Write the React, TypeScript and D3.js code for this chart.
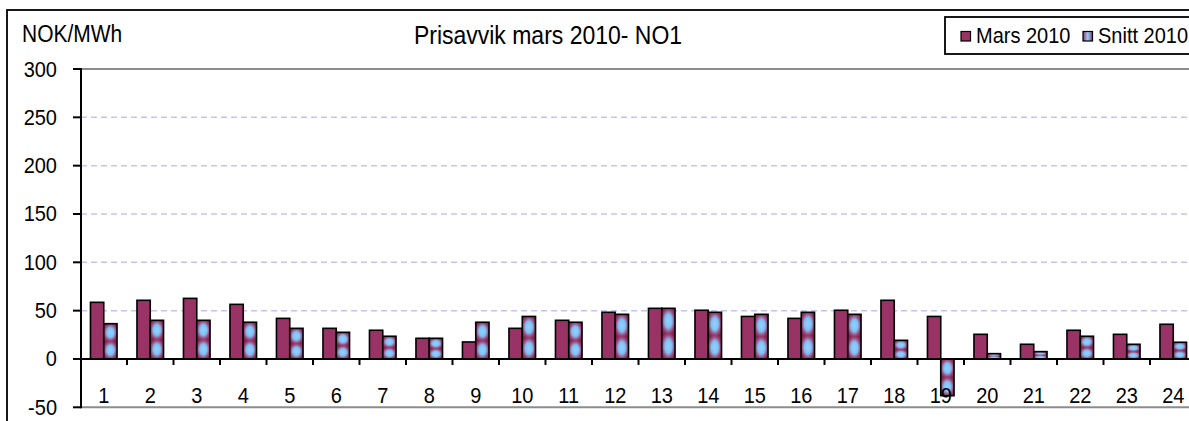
import { scaleBand, scaleLinear } from "d3";
import type { ReactNode } from "react";

const hours = Array.from({ length: 24 }, (_, i) => String(i + 1));
const series = ["Mars 2010", "Snitt 2010"];
const mars = [58.6, 60.7, 62.7, 56.5, 42, 31.7, 29.7, 21.4, 17.6, 31.7, 40, 48.3, 52.4, 50.4, 44, 42, 50.4, 60.7, 44, 25.5, 15.2, 29.7, 25.5, 35.9];
const snitt = [36.5, 40, 40, 38, 31.7, 27.6, 23.5, 21.4, 38, 44, 38, 46.2, 52.4, 48.3, 46.2, 48.3, 46.2, 19.3, -38, 5.5, 7.6, 23.5, 15.2, 17.3];
const yTicks = [-50, 0, 50, 100, 150, 200, 250, 300];

const W = 1189;
const H = 421;
const font = "'Liberation Sans', Arial, sans-serif";

// Excel text looks a bit taller than Arial, so stretch it slightly
function T({ x, y, size, anchor = "start", children }: { x: number; y: number; size: number; anchor?: string; children: ReactNode }) {
  return (
    <g transform={`translate(${x},${y}) scale(1,1.1)`}>
      <text x={0} y={0} fontFamily={font} fontSize={size} textAnchor={anchor} fill="#000">
        {children}
      </text>
    </g>
  );
}

export default function App() {
  const x0 = scaleBand().domain(hours).range([80.5, 80.5 + 24 * 46.5]).paddingInner(0);
  const x1 = scaleBand().domain(series).range([0, x0.bandwidth()]).paddingOuter(0.75).paddingInner(0);
  const y = scaleLinear().domain([-50, 300]).range([407.3, 69]);
  const y0 = y(0);
  const right = 80.5 + 24 * 46.5;

  const bar = (h: string, s: string, v: number) => {
    const bx = (x0(h) ?? 0) + (x1(s) ?? 0);
    const top = Math.min(y(v), y0);
    const hh = Math.abs(y(v) - y0);
    return { x: bx, y: top, w: x1.bandwidth(), h: hh };
  };

  return (
    <div style={{ position: "fixed", left: 0, top: 0 }}>
      <svg width={W} height={H} style={{ display: "block", background: "#fff" }}>
        <defs>
          <radialGradient id="snittGrad" cx="0.5" cy="0.5" r="0.6">
            <stop offset="0%" stopColor="#90d4ff" />
            <stop offset="45%" stopColor="#80c0f4" />
            <stop offset="75%" stopColor="#a04578" />
            <stop offset="100%" stopColor="#7a2050" />
          </radialGradient>
          <pattern id="snittFill" patternUnits="objectBoundingBox" patternContentUnits="objectBoundingBox" width="1" height="0.5">
            <rect x="0" y="0" width="1" height="0.5" fill="url(#snittGrad)" />
          </pattern>
          <linearGradient id="legendGrad" x1="0" x2="1" y1="0" y2="0">
            <stop offset="0%" stopColor="#993366" />
            <stop offset="50%" stopColor="#8fd0ff" />
            <stop offset="100%" stopColor="#993366" />
          </linearGradient>
        </defs>

        {/* outer chart frame */}
        <rect x={7} y={10} width={W + 20} height={H + 20} fill="none" stroke="#000" strokeWidth={1.8} />

        <T x={22} y={42} size={21}>NOK/MWh</T>
        <T x={548} y={44} size={23} anchor="middle">Prisavvik mars 2010- NO1</T>

        {/* legend */}
        <rect x={945} y={17} width={260} height={37} fill="#fff" stroke="#000" strokeWidth={1.8} />
        <rect x={961} y={31.5} width={9.5} height={9.5} fill="#993366" stroke="#000" strokeWidth={1.2} />
        <T x={976} y={43} size={20}>{series[0]}</T>
        <rect x={1083} y={31.5} width={9.5} height={9.5} fill="url(#legendGrad)" stroke="#000" strokeWidth={1.2} />
        <T x={1098} y={43} size={20}>{series[1]}</T>

        {/* plot area border */}
        <line x1={81} x2={right} y1={y(300)} y2={y(300)} stroke="#8c8c8c" strokeWidth={2} />
        <line x1={81} x2={right} y1={y(-50)} y2={y(-50)} stroke="#8c8c8c" strokeWidth={2} />

        {/* gridlines */}
        {yTicks.filter((t) => t > 0 && t < 300).map((t) => (
          <line key={t} x1={81} x2={right} y1={y(t)} y2={y(t)} stroke="#c4c4fa" strokeWidth={1.5} strokeDasharray="6 4" />
        ))}

        {/* bars */}
        {hours.map((h, i) => {
          const a = bar(h, series[0], mars[i]);
          const b = bar(h, series[1], snitt[i]);
          return (
            <g key={h}>
              <rect x={a.x} y={a.y} width={a.w} height={a.h} fill="#993366" stroke="#000" strokeWidth={1.6} />
              <rect x={b.x} y={b.y} width={b.w} height={b.h} fill="url(#snittFill)" stroke="#000" strokeWidth={1.6} />
            </g>
          );
        })}

        {/* y axis */}
        <line x1={81} x2={81} y1={y(300) - 1} y2={y(-50) + 1} stroke="#000" strokeWidth={2} />
        {yTicks.map((t) => (
          <g key={t}>
            <line x1={73} x2={81} y1={y(t)} y2={y(t)} stroke="#000" strokeWidth={2} />
            <T x={57} y={y(t) + 7.5} size={20} anchor="end">{t}</T>
          </g>
        ))}

        {/* zero axis */}
        <line x1={81} x2={right} y1={y0} y2={y0} stroke="#000" strokeWidth={2} />
        {hours.map((h) => (
          <line key={h} x1={(x0(h) ?? 0) + x0.bandwidth()} x2={(x0(h) ?? 0) + x0.bandwidth()} y1={y0} y2={y0 + 6} stroke="#000" strokeWidth={2} />
        ))}
        {hours.map((h) => (
          <T key={h} x={(x0(h) ?? 0) + x0.bandwidth() / 2} y={403} size={20} anchor="middle">{h}</T>
        ))}
      </svg>
    </div>
  );
}
